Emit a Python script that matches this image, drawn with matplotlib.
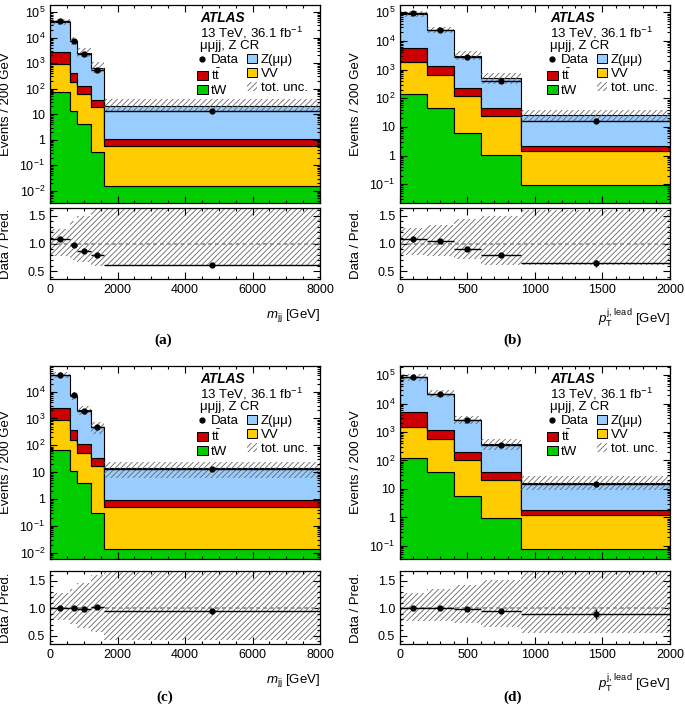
import numpy as np
import matplotlib
matplotlib.use('Agg')
import matplotlib.pyplot as plt
from matplotlib.patches import Patch
from matplotlib.lines import Line2D
from matplotlib.ticker import FixedLocator, MultipleLocator, FuncFormatter, NullFormatter

plt.rcParams['font.family'] = ['Liberation Sans', 'DejaVu Sans']
plt.rcParams['mathtext.fontset'] = 'custom'
plt.rcParams['mathtext.rm'] = 'Liberation Sans'
plt.rcParams['mathtext.it'] = 'Liberation Sans:italic'
plt.rcParams['mathtext.bf'] = 'Liberation Sans:bold'
plt.rcParams['hatch.linewidth'] = 0.6

# ---- data ----
mjj_edges = [0, 600, 800, 1200, 1600, 8000]
pt_edges = [0, 200, 400, 600, 900, 2000]

# (a) m_jj
a_tw = [71, 13, 4.1, 0.34, 0.016]
a_vv = [839, 173, 58, 19.2, 0.56]
a_tt = [1890, 214, 65, 15.5, 0.45]
a_z = [38200, 7100, 2420, 635, 20]
a_data = [44000, 7350, 2200, 535, 13]
a_unc_lo = [0.78, 0.71, 0.66, 0.60, 0.60]
a_unc_hi = [1.27, 1.40, 1.50, 1.62, 1.85]

# (b) leading jet pT
b_tw = [140, 45, 6.3, 1.05, 0.09]
b_vv = [1660, 605, 114, 23, 1.31]
b_tt = [3700, 700, 105, 23, 0.8]
b_z = [81500, 22450, 2875, 450, 22.8]
b_data = [94000, 24800, 2820, 390, 16]
b_unc_lo = [0.79, 0.78, 0.72, 0.62, 0.62]
b_unc_hi = [1.28, 1.33, 1.45, 1.50, 1.60]

# (c) m_jj
c_tw = [67, 11, 3.8, 0.30, 0.014]
c_vv = [793, 151, 50, 17.2, 0.49]
c_tt = [1640, 198, 60, 15.5, 0.39]
c_z = [39500, 6740, 1886, 442, 12.9]
c_data = [42000, 7170, 1960, 490, 13]
c_unc_lo = [0.78, 0.71, 0.65, 0.56, 0.42]
c_unc_hi = [1.28, 1.36, 1.46, 1.61, 1.75]

# (d) leading jet pT
d_tw = [124, 38, 5.4, 0.91, 0.074]
d_vv = [1396, 522, 101.6, 20.1, 1.13]
d_tt = [3630, 610, 93, 19, 0.6]
d_z = [77850, 20430, 2440, 325, 14.7]
d_data = [83000, 21800, 2590, 347, 14.8]
d_unc_lo = [0.77, 0.77, 0.74, 0.66, 0.55]
d_unc_hi = [1.28, 1.36, 1.43, 1.52, 1.75]

colors = {'tW': '#00cc00', 'VV': '#ffcc00', 'tt': '#cc0000', 'Z': '#99ccff'}
hatch_col = '0.4'

W, H = 685, 706
fig = plt.figure(figsize=(W / 100, H / 100), dpi=100)


def px_axes(l, t, r, b):
    return fig.add_axes([l / W, 1 - b / H, (r - l) / W, (b - t) / H])


def log_fmt(v, pos):
    e = int(round(np.log10(v)))
    if e == 0:
        return '1'
    if e == 1:
        return '10'
    return r'$10^{%d}$' % e


def style_ticks(ax):
    ax.tick_params(which='both', direction='in', top=True, right=True, labelsize=9)
    ax.tick_params(which='major', length=5, width=0.8)
    ax.tick_params(which='minor', length=2.5, width=0.8)
    for s in ax.spines.values():
        s.set_linewidth(0.9)


def log_ticks(lo, hi):
    # decades (and sub-decade minors) that fall inside the view only
    e0, e1 = int(np.floor(np.log10(lo))), int(np.ceil(np.log10(hi)))
    major = [10.0 ** e for e in range(e0, e1 + 1) if lo <= 10.0 ** e <= hi]
    minor = [m * 10.0 ** e for e in range(e0, e1 + 1) for m in range(2, 10)
             if lo <= m * 10.0 ** e <= hi]
    return major, minor


def draw_panel(xl, xr, main_tb, ratio_tb, edges, tw, vv, tt, z, data, ulo, uhi,
               ylim, rlim, xlabel, xmaj, xmin, tag, tag_xy):
    edges = np.asarray(edges, float)
    ax = px_axes(xl, main_tb[0], xr, main_tb[1])
    axr = px_axes(xl, ratio_tb[0], xr, ratio_tb[1])
    ax.set_yscale('log')

    bottom = np.full(len(tw), 1e-6)
    for name, vals in [('tW', tw), ('VV', vv), ('tt', tt), ('Z', z)]:
        top = bottom + np.asarray(vals, float)
        ax.stairs(top, edges, baseline=bottom, fill=True, facecolor=colors[name],
                  edgecolor='k', lw=0.8)
        bottom = top
    pred = bottom
    ulo = np.asarray(ulo)
    uhi = np.asarray(uhi)
    data = np.asarray(data, float)

    ax.stairs(pred * uhi, edges, baseline=pred * ulo, fill=True, facecolor='none',
              edgecolor=hatch_col, hatch='//////', lw=0)

    centers = 0.5 * (edges[1:] + edges[:-1])
    half = 0.5 * np.diff(edges)
    ax.errorbar(centers, data, xerr=half, fmt='o', color='k', ms=3.5, lw=1, capsize=0)

    ax.set_xlim(edges[0], edges[-1])
    ax.set_ylim(*ylim)
    major, minor = log_ticks(*ylim)
    ax.yaxis.set_major_locator(FixedLocator(major))
    ax.yaxis.set_minor_locator(FixedLocator(minor))
    ax.yaxis.set_major_formatter(FuncFormatter(log_fmt))
    ax.yaxis.set_minor_formatter(NullFormatter())
    ax.xaxis.set_major_locator(MultipleLocator(xmaj))
    ax.xaxis.set_minor_locator(MultipleLocator(xmin))
    style_ticks(ax)
    ax.tick_params(labelbottom=False)
    ax.set_ylabel('Events / 200 GeV', fontsize=9.5)
    ax.yaxis.set_label_coords(-0.14, 0.5)

    # labels and legend
    h = main_tb[1] - main_tb[0]
    tx = 0.555
    ax.text(tx, 1 - 13 / h, 'ATLAS', transform=ax.transAxes, fontsize=9.8,
            weight='bold', style='italic', va='center')
    ax.text(tx, 1 - 27.5 / h, r'13 TeV, 36.1 fb$^{-1}$', transform=ax.transAxes,
            fontsize=9.5, va='center')
    ax.text(tx, 1 - 41 / h, 'μμjj, Z CR', transform=ax.transAxes, fontsize=9.5, va='center')
    handles = [Line2D([], [], marker='o', ls='none', color='k', ms=3.5),
               Patch(facecolor=colors['tt'], edgecolor='k', lw=0.7),
               Patch(facecolor=colors['tW'], edgecolor='k', lw=0.7),
               Patch(facecolor=colors['Z'], edgecolor='k', lw=0.7),
               Patch(facecolor=colors['VV'], edgecolor='k', lw=0.7),
               Patch(facecolor='none', edgecolor=hatch_col, hatch='//////', lw=0)]
    labels = ['Data', r'$\mathrm{t\bar{t}}$', 'tW', 'Z(μμ)', 'VV', 'tot. unc.']
    ax.legend(handles, labels, ncol=2, loc='upper left', bbox_to_anchor=(0.545, 1 - 49 / h),
              frameon=False, fontsize=9.5, handlelength=0.8, handleheight=0.7,
              handletextpad=0.25, columnspacing=0.6, labelspacing=0.12,
              borderpad=0, borderaxespad=0)

    # ratio
    ratio = data / pred
    nev = data * np.diff(edges) / 200.0
    rerr = ratio / np.sqrt(nev)
    axr.stairs(uhi, edges, baseline=ulo, fill=True, facecolor='none',
               edgecolor=hatch_col, hatch='//////', lw=0)
    axr.axhline(1.0, color='0.5', ls=(0, (2.5, 2)), lw=1.1)
    axr.errorbar(centers, ratio, xerr=half, yerr=rerr, fmt='o', color='k', ms=3.5,
                 lw=1, capsize=0)
    axr.set_xlim(edges[0], edges[-1])
    axr.set_ylim(*rlim)
    axr.yaxis.set_major_locator(FixedLocator([0.5, 1.0, 1.5]))
    axr.yaxis.set_minor_locator(MultipleLocator(0.1))
    axr.yaxis.set_major_formatter(FuncFormatter(lambda v, p: '%.1f' % v))
    axr.xaxis.set_major_locator(MultipleLocator(xmaj))
    axr.xaxis.set_minor_locator(MultipleLocator(xmin))
    style_ticks(axr)
    axr.set_ylabel('Data / Pred.', fontsize=9.5)
    axr.yaxis.set_label_coords(-0.14, 0.5)
    rh = ratio_tb[1] - ratio_tb[0]
    axr.set_xlabel(xlabel, fontsize=9.5, ha='right')
    axr.xaxis.set_label_coords(1.0, -28 / rh)

    fig.text(tag_xy[0] / W, 1 - tag_xy[1] / H, tag, family='Liberation Serif',
             weight='bold', fontsize=11, ha='center', va='center')


mjj_label = r'$m_{\mathrm{jj}}$ [GeV]'
pt_label = r'$p_{\mathrm{T}}^{\mathrm{j,\,lead}}$ [GeV]'

draw_panel(50, 320, (5, 203), (208, 279), mjj_edges, a_tw, a_vv, a_tt, a_z, a_data,
           a_unc_lo, a_unc_hi, (3.3e-3, 1.9e5), (0.36, 1.64), mjj_label, 2000, 500,
           '(a)', (163, 340))
draw_panel(400, 670, (5, 203), (208, 279), pt_edges, b_tw, b_vv, b_tt, b_z, b_data,
           b_unc_lo, b_unc_hi, (0.022, 1.8e5), (0.36, 1.64), pt_label, 500, 100,
           '(b)', (513, 340))
draw_panel(50, 320, (366, 559), (571, 644), mjj_edges, c_tw, c_vv, c_tt, c_z, c_data,
           c_unc_lo, c_unc_hi, (5.8e-3, 9e4), (0.35, 1.68), mjj_label, 2000, 500,
           '(c)', (165, 697))
draw_panel(400, 670, (366, 559), (571, 644), pt_edges, d_tw, d_vv, d_tt, d_z, d_data,
           d_unc_lo, d_unc_hi, (0.034, 2.1e5), (0.35, 1.68), pt_label, 500, 100,
           '(d)', (513, 697))

fig.savefig('out.png', dpi=100)
